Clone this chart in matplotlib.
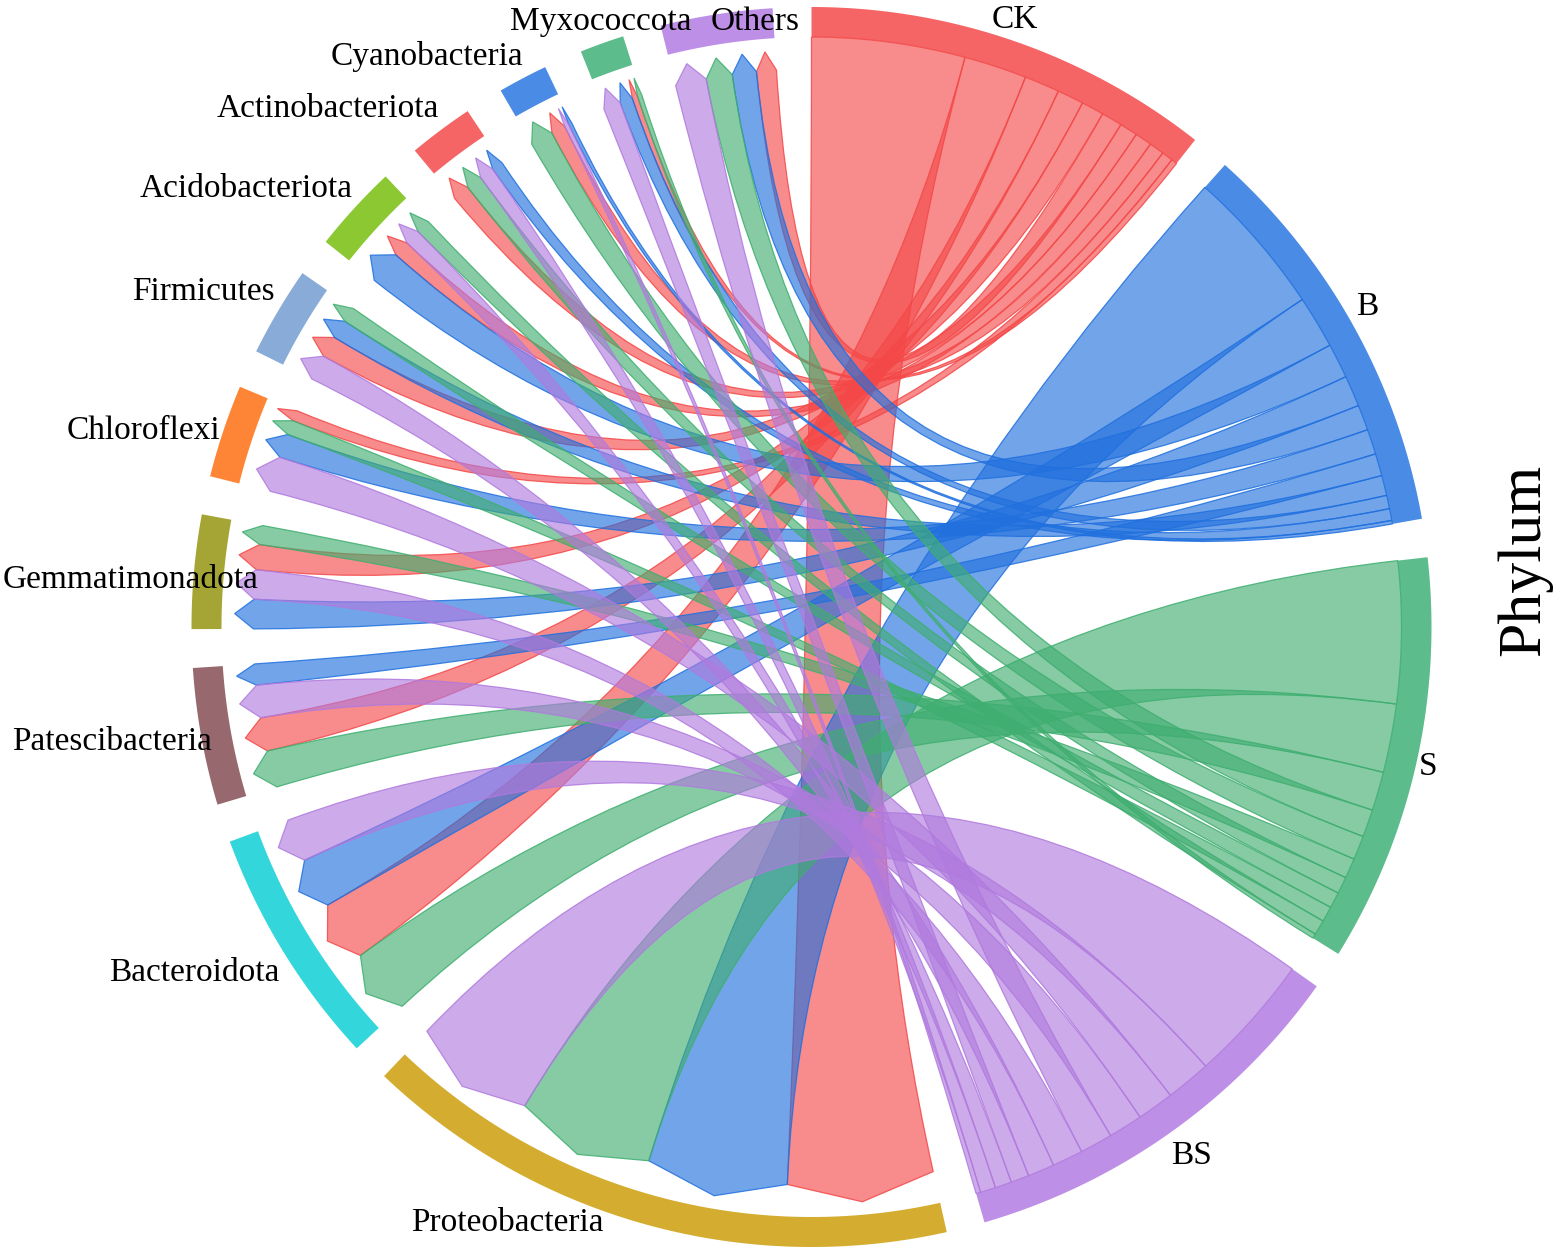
import numpy as np
import matplotlib
matplotlib.use("Agg")
import matplotlib.pyplot as plt
from matplotlib.path import Path
from matplotlib.patches import PathPatch

samples = ["CK", "B", "S", "BS"]
phyla = ["Proteobacteria", "Bacteroidota", "Patescibacteria", "Gemmatimonadota",
         "Chloroflexi", "Firmicutes", "Acidobacteriota", "Actinobacteriota",
         "Cyanobacteria", "Myxococcota", "Others"]
# relative abundance (%) of each phylum, same order as `phyla`
ck = [39.3, 16.1, 9.05, 6.8, 2.88, 5.8, 4.35, 4.6, 3.85, 1.5, 5.36]
b = [37.7, 13.5, 5.7, 7.95, 6.45, 5.15, 8.95, 3.02, 0.92, 3.45, 6.54]
s = [36.4, 17.6, 9.95, 5.15, 3.95, 4.1, 3.84, 4.33, 6.17, 1.2, 7.06]
bs = [33.0, 11.6, 8.8, 7.9, 9.46, 6.85, 4.25, 3.94, 1.18, 4.66, 8.37]

sample_track = ["#F56565", "#4A8BE6", "#5CBC8B", "#BE8FE6"]
sample_link = ["#F44848", "#2070DE", "#3FAE70", "#B07ADE"]
phylum_track = ["#D4AC2F", "#33D6DB", "#97696F", "#A5A536", "#FF8536", "#88ABD8",
                "#8CC832", "#F56565", "#4A8BE6", "#5CBC8B", "#BE8FE6"]
label_px = {"CK": (1015, 20), "B": (1367, 307), "S": (1428, 767), "BS": (1191, 1156),
            "Proteobacteria": (507, 1223), "Bacteroidota": (194, 973),
            "Patescibacteria": (112, 742), "Gemmatimonadota": (131, 580),
            "Chloroflexi": (143, 431), "Firmicutes": (203, 292),
            "Acidobacteriota": (246, 189), "Actinobacteriota": (328, 109),
            "Cyanobacteria": (427, 57), "Myxococcota": (601, 22), "Others": (755, 22)}

W, H = 1560, 1254
CX, CY = 811.5, 627.0
R_OUT, R_IN, R_TIP, R_BASE = 620.0, 590.0, 577.0, 558.0
GAP = 3.6
ALPHA = 0.63

matrix = np.array([ck, b, s, bs])
fig = plt.figure(figsize=(W / 100, H / 100), dpi=100)
ax = fig.add_axes([0, 0, 1, 1])
ax.set_xlim(-CX, W - CX)
ax.set_ylim(-(H - CY), CY)
ax.set_aspect("equal")
ax.axis("off")


def pt(angle, r):
    t = np.deg2rad(angle)
    return (r * np.sin(t), r * np.cos(t))


def arc(a0, a1, r):
    n = max(int(abs(a1 - a0) * 2) + 2, 3)
    return [pt(x, r) for x in np.linspace(a0, a1, n)]


totals = list(matrix.sum(axis=1)) + list(matrix.sum(axis=0))
unit = (360 - GAP * len(totals)) / sum(totals)
starts, a = [], 0.0
for t in totals:
    starts.append(a)
    a += t * unit + GAP

names = samples + phyla
colors = sample_track + phylum_track
for st, t, c in zip(starts, totals, colors):
    poly = arc(st, st + t * unit, R_OUT) + arc(st + t * unit, st, R_IN)
    ax.fill(*zip(*poly), color=c, lw=0, zorder=1)

# slot of every link inside the sample and phylum sectors (largest first, clockwise)
sample_slot = {}
for i in range(4):
    a = starts[i]
    for j in np.argsort(-matrix[i], kind="stable"):
        sample_slot[(i, j)] = (a, a + matrix[i, j] * unit)
        a += matrix[i, j] * unit
phylum_slot = {}
for j in range(len(phyla)):
    a = starts[4 + j]
    for i in np.argsort(-matrix[:, j], kind="stable"):
        phylum_slot[(i, j)] = (a, a + matrix[i, j] * unit)
        a += matrix[i, j] * unit

zo = 2
for i in range(4):
    for j in np.argsort(-matrix[i], kind="stable"):
        a0, a1 = sample_slot[(i, j)]
        b0, b1 = phylum_slot[(i, j)]
        top = arc(a0, a1, R_IN)
        verts = list(top)
        codes = [Path.MOVETO] + [Path.LINETO] * (len(top) - 1)
        verts += [(0, 0), pt(b0, R_BASE)]
        codes += [Path.CURVE3, Path.CURVE3]
        verts += [pt((b0 + b1) / 2, R_TIP), pt(b1, R_BASE)]
        codes += [Path.LINETO, Path.LINETO]
        verts += [(0, 0), pt(a0, R_IN)]
        codes += [Path.CURVE3, Path.CURVE3]
        col = matplotlib.colors.to_rgb(sample_link[i])
        ax.add_patch(PathPatch(Path(verts, codes), facecolor=col + (ALPHA,),
                               edgecolor=col + (0.85,), lw=0.9, zorder=zo))
        zo += 1

serif = "Liberation Serif"
for name, (px, py) in label_px.items():
    ax.text(px - CX, CY - py, name, family=serif, fontsize=24, ha="center",
            va="center", color="black", zorder=100)
ax.text(1524 - CX, CY - 560, "Phylum", family=serif, fontsize=44.5, rotation=90,
        ha="center", va="center", color="black", zorder=100)

fig.savefig("out.png", dpi=100)
